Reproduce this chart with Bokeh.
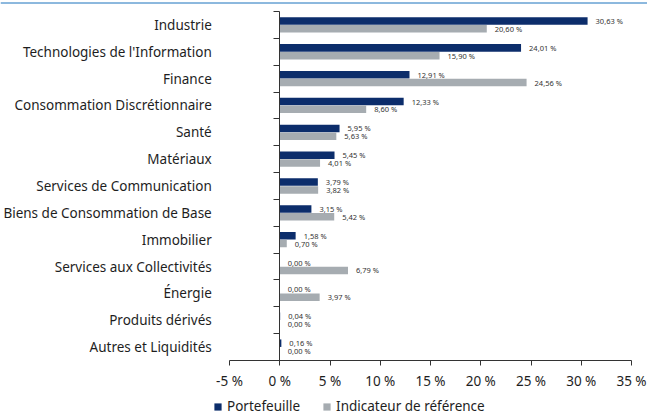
from bokeh.plotting import figure
from bokeh.models import (FixedTicker, ColumnDataSource, Legend, LegendItem, Span)
from bokeh.embed import file_html
from bokeh.resources import INLINE
from bokeh.core.properties import value

categories = [
    "Industrie",
    "Technologies de l'Information",
    "Finance",
    "Consommation Discrétionnaire",
    "Santé",
    "Matériaux",
    "Services de Communication",
    "Biens de Consommation de Base",
    "Immobilier",
    "Services aux Collectivités",
    "Énergie",
    "Produits dérivés",
    "Autres et Liquidités",
]
portefeuille = [30.63, 24.01, 12.91, 12.33, 5.95, 5.45, 3.79, 3.15, 1.58, 0.00, 0.00, 0.04, 0.16]
indicateur = [20.60, 15.90, 24.56, 8.60, 5.63, 4.01, 3.82, 5.42, 0.70, 6.79, 3.97, 0.00, 0.00]
x_ticks = [-5, 0, 5, 10, 15, 20, 25, 30, 35]
x_tick_labels = ["-5 %", "0 %", "5 %", "10 %", "15 %", "20 %", "25 %", "30 %", "35 %"]
series_names = ["Portefeuille", "Indicateur de référence"]

NAVY = "#0c2d6b"
GREY = "#a6acb1"
TXT = "#1e1e1e"
AX = "#333333"
FONT = "Noto Sans"
FS = "13.5px"

# ---- layout geometry (pixels) ----
W, H = 647, 414
AX_LEFT_PX, AX_RIGHT_PX = 229, 631      # where -5 % and 35 % sit
AX_TOP_PX, AX_BOT_PX = 11, 360          # top / bottom of the category area
X_MIN, X_MAX = x_ticks[0], x_ticks[-1]

n = len(categories)
px_x = (AX_RIGHT_PX - AX_LEFT_PX) / (X_MAX - X_MIN)
px_y = (AX_BOT_PX - AX_TOP_PX) / n
x_start = X_MIN - AX_LEFT_PX / px_x
x_end = X_MAX + (W - AX_RIGHT_PX) / px_x
y_end = (n - 0.5) + AX_TOP_PX / px_y
y_start = -0.5 - (H - AX_BOT_PX) / px_y

centers = [n - 1 - i for i in range(n)]
boundaries = [c - 0.5 for c in range(n + 1)]
fmt = lambda v: f"{v:.2f}".replace(".", ",") + " %"

src_p = ColumnDataSource(dict(y=[c + 0.145 for c in centers], v=portefeuille,
                              lab=[fmt(v) for v in portefeuille]))
src_i = ColumnDataSource(dict(y=[c - 0.145 for c in centers], v=indicateur,
                              lab=[fmt(v) for v in indicateur]))

p = figure(width=W, height=H, x_range=(x_start, x_end), y_range=(y_start, y_end),
           output_backend="svg", toolbar_location=None,
           min_border=0, min_border_left=0, min_border_right=0,
           min_border_top=0, min_border_bottom=0)
p.outline_line_color = None
p.xgrid.visible = False
p.ygrid.visible = False

# thin blue rule across the top
p.add_layout(Span(location=(n - 0.5) + (AX_TOP_PX - 2.5) / px_y, dimension="width",
                  line_color="#1a72bd", line_width=1))

r1 = p.hbar(y="y", right="v", left=0, height=0.28, source=src_p,
            fill_color=NAVY, line_color=None)
r2 = p.hbar(y="y", right="v", left=0, height=0.28, source=src_i,
            fill_color=GREY, line_color=None)

for s in (src_p, src_i):
    p.text(x="v", y="y", text="lab", source=s, x_offset=8,
           text_baseline="middle", text_align="left",
           text_font=value(FONT), text_font_size="7.5px", text_color="#333333")

# x axis (drawn inside the frame at the bottom of the category area)
xa = p.xaxis[0]
xa.fixed_location = -0.5
xa.bounds = (X_MIN, X_MAX)
xa.ticker = FixedTicker(ticks=x_ticks, minor_ticks=[])
xa.major_label_overrides = {t: l for t, l in zip(x_ticks, x_tick_labels)}
xa.major_label_text_font = FONT
xa.major_label_text_font_size = FS
xa.major_label_text_color = TXT
xa.major_tick_out = 5
xa.major_tick_in = 0
xa.minor_tick_out = 0
xa.minor_tick_in = 0
xa.major_label_standoff = 6
xa.axis_line_color = AX
xa.major_tick_line_color = AX

# y axis at x = 0: labels at centers, ticks between categories
ya = p.yaxis[0]
ya.fixed_location = 0
ya.bounds = (-0.5, n - 0.5)
ya.ticker = FixedTicker(ticks=centers, minor_ticks=boundaries)
ya.major_label_overrides = {c: categories[i] for i, c in enumerate(centers)}
ya.major_label_text_font = FONT
ya.major_label_text_font_size = FS
ya.major_label_text_color = TXT
ya.major_tick_out = 0
ya.major_tick_in = 0
ya.minor_tick_out = 6
ya.minor_tick_in = 0
ya.major_label_standoff = 62
ya.axis_line_color = AX
ya.minor_tick_line_color = AX

legend = Legend(items=[LegendItem(label=series_names[0], renderers=[r1]),
                       LegendItem(label=series_names[1], renderers=[r2])],
                orientation="horizontal", location=(213, -1),
                padding=0, margin=0, spacing=22, glyph_width=9, glyph_height=9,
                label_standoff=5, label_text_font=FONT, label_text_font_size=FS,
                label_text_color=TXT, label_height=13, border_line_color=None,
                background_fill_alpha=0)
p.add_layout(legend)

open("out.html", "w").write(file_html(p, INLINE))
